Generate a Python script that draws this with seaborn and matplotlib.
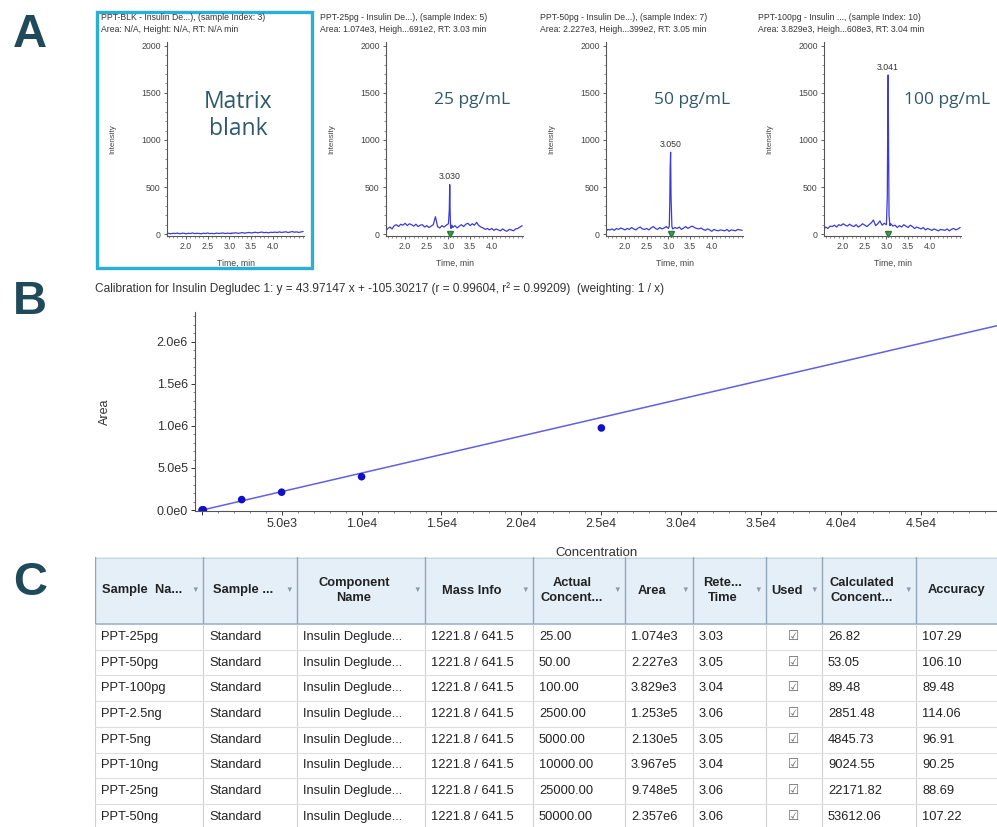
import numpy as np
import pandas as pd
import matplotlib
matplotlib.use("Agg")
import matplotlib.pyplot as plt
from matplotlib.patches import Rectangle
from matplotlib.ticker import MultipleLocator, FuncFormatter
import seaborn as sns

# ---------------- panel A: extracted ion chromatograms ----------------
times = [1.56, 1.60, 1.65, 1.70, 1.75, 1.80, 1.85, 1.90, 1.95, 2.00,
         2.05, 2.10, 2.15, 2.20, 2.25, 2.30, 2.35, 2.40, 2.45, 2.50,
         2.55, 2.60, 2.65, 2.70, 2.75, 2.80, 2.85, 2.90, 2.95, 3.00,
         3.02, 3.03, 3.04, 3.05, 3.06, 3.08, 3.10, 3.15, 3.20, 3.25,
         3.30, 3.35, 3.40, 3.45, 3.50, 3.55, 3.60, 3.65, 3.70, 3.75,
         3.80, 3.85, 3.90, 3.95, 4.00, 4.05, 4.10, 4.15, 4.20, 4.25,
         4.30, 4.35, 4.40, 4.45, 4.50, 4.55, 4.60, 4.65, 4.70]

trace_blank = [4, 8, 3, 9, 6, 11, 4, 8, 10, 3,
               9, 6, 12, 5, 9, 7, 3, 10, 6, 12,
               5, 8, 4, 11, 7, 9, 12, 6, 10, 8,
               5, 7, 11, 6, 9, 12, 10, 14, 8, 12,
               16, 10, 14, 18, 12, 16, 20, 14, 18, 22,
               15, 19, 13, 20, 17, 22, 16, 24, 18, 21,
               25, 17, 22, 27, 20, 24, 18, 23, 28]

trace_25pg = [35, 60, 75, 55, 90, 100, 80, 105, 95, 115,
              90, 110, 100, 85, 105, 80, 95, 100, 75, 90,
              70, 85, 100, 185, 80, 65, 90, 75, 95, 110,
              260, 525, 230, 75, 60, 95, 70, 90, 65, 85,
              100, 80, 105, 115, 90, 110, 95, 125, 90, 75,
              65, 50, 60, 45, 60, 40, 55, 45, 35, 55,
              40, 30, 50, 45, 35, 55, 60, 75, 90]

trace_50pg = [30, 50, 45, 55, 40, 60, 50, 65, 55, 45,
              60, 50, 70, 55, 45, 65, 75, 55, 50, 60,
              45, 65, 80, 60, 50, 70, 55, 65, 80, 60,
              90, 320, 700, 870, 400, 80, 55, 70, 60, 75,
              50, 65, 80, 60, 75, 85, 70, 60, 55, 65,
              50, 40, 55, 45, 30, 50, 40, 35, 45, 40,
              35, 50, 30, 45, 40, 35, 50, 45, 40]

trace_100pg = [55, 75, 60, 85, 80, 95, 75, 100, 90, 110,
               95, 85, 105, 90, 80, 100, 75, 90, 110, 95,
               80, 100, 120, 150, 90, 110, 140, 95, 115, 100,
               400, 1200, 1690, 900, 200, 90, 110, 85, 95, 70,
               90, 75, 100, 85, 70, 95, 80, 60, 75, 65,
               55, 70, 45, 60, 50, 40, 55, 45, 35, 50,
               45, 40, 55, 35, 50, 60, 45, 55, 70]

chrom_traces = [trace_blank, trace_25pg, trace_50pg, trace_100pg]
chrom_titles = ["PPT-BLK - Insulin De...), (sample Index: 3)",
                "PPT-25pg - Insulin De...), (sample Index: 5)",
                "PPT-50pg - Insulin De...), (sample Index: 7)",
                "PPT-100pg - Insulin ..., (sample Index: 10)"]
chrom_subtitles = ["Area: N/A, Height: N/A, RT: N/A min",
                   "Area: 1.074e3, Heigh...691e2, RT: 3.03 min",
                   "Area: 2.227e3, Heigh...399e2, RT: 3.05 min",
                   "Area: 3.829e3, Heigh...608e3, RT: 3.04 min"]
chrom_tags = ["Matrix\nblank", "25 pg/mL", "50 pg/mL", "100 pg/mL"]
peak_labels = [None, "3.030", "3.050", "3.041"]
time_ticks = [2.0, 2.5, 3.0, 3.5, 4.0]
intensity_ticks = [0, 500, 1000, 1500, 2000]

# ---------------- panel B / C: calibration ----------------
sample_names = ["PPT-25pg", "PPT-50pg", "PPT-100pg", "PPT-2.5ng",
                "PPT-5ng", "PPT-10ng", "PPT-25ng", "PPT-50ng"]
sample_types = ["Standard"] * 8
component_names = ["Insulin Deglude..."] * 8
mass_info = ["1221.8 / 641.5"] * 8
actual_conc = [25, 50, 100, 2500, 5000, 10000, 25000, 50000]
peak_area = [1.074e3, 2.227e3, 3.829e3, 1.253e5, 2.130e5, 3.967e5, 9.748e5, 2.357e6]
ret_time = [3.03, 3.05, 3.04, 3.06, 3.05, 3.04, 3.06, 3.06]
calc_conc = [26.82, 53.05, 89.48, 2851.48, 4845.73, 9024.55, 22171.82, 53612.06]
accuracy = [107.29, 106.10, 89.48, 114.06, 96.91, 90.25, 88.69, 107.22]
slope, intercept = 43.97147, -105.30217

header_labels = ["Sample  Na...", "Sample ...", "Component\nName", "Mass Info",
                 "Actual\nConcent...", "Area", "Rete...\nTime", "Used",
                 "Calculated\nConcent...", "Accuracy"]
col_widths = [108, 94, 128, 108, 92, 68, 73, 56, 94, 95]

W, H = 997, 827
LETTER = "#1f4a5a"
TAG = "#2c5a6c"
TRACE = "#3b3bd6"


def sci_label(v, digits):
    if v == 0:
        return "0." + "0" * digits + "e0"
    e = int(np.floor(np.log10(abs(v)) + 1e-9))
    return f"{v / 10 ** e:.{digits}f}e{e}"


sns.set_theme(style="ticks")
plt.rcParams["font.family"] = ["Liberation Sans", "DejaVu Sans"]

fig = plt.figure(figsize=(W / 100, H / 100), dpi=100)


def px_axes(left, top, right, bottom):
    return fig.add_axes([left / W, 1 - bottom / H, (right - left) / W, (bottom - top) / H])


# panel letters
for letter, yc in zip(["A", "B", "C"], [35, 302, 583]):
    fig.text(30 / W, 1 - yc / H, letter, fontsize=34, fontweight="bold",
             color=LETTER, ha="center", va="center")

# ---- A ----
lefts = [167, 386, 606, 824]
for i, left in enumerate(lefts):
    ax = px_axes(left, 42, left + 137, 236)
    df = pd.DataFrame({"Time": times, "Intensity": chrom_traces[i]})
    sns.lineplot(data=df, x="Time", y="Intensity", ax=ax, color=TRACE, lw=0.9)
    ax.set_xlim(1.56, 4.72)
    ax.set_ylim(-20, 2040)
    ax.set_xticks(time_ticks)
    ax.set_yticks(intensity_ticks)
    ax.yaxis.set_minor_locator(MultipleLocator(100))
    ax.xaxis.set_minor_locator(MultipleLocator(0.1))
    ax.xaxis.set_major_formatter(FuncFormatter(lambda v, p: f"{v:.1f}"))
    ax.tick_params(labelsize=6.3, colors="#444", length=2.5, width=0.6, pad=2)
    ax.tick_params(which="minor", length=1.3, width=0.5, colors="#666")
    sns.despine(ax=ax)
    for s in ["left", "bottom"]:
        ax.spines[s].set_color("#555")
        ax.spines[s].set_linewidth(0.8)
    ax.set_ylabel("Intensity", fontsize=5.8, color="#444")
    ax.set_xlabel("Time, min", fontsize=6.3, color="#444")
    ax.yaxis.set_label_coords(-0.37, 0.5)
    ax.xaxis.set_label_coords(0.5, -0.12)

    fig.text((left - 66) / W, 1 - 17 / H, chrom_titles[i], fontsize=6.2,
             color="#333", va="center")
    fig.text((left - 66) / W, 1 - 29 / H, chrom_subtitles[i], fontsize=6.2,
             color="#333", va="center")

    if peak_labels[i]:
        k = int(np.argmax(chrom_traces[i]))
        ax.text(times[k], chrom_traces[i][k] + 35, peak_labels[i], ha="center",
                va="bottom", fontsize=6.3, color="#333")
        ax.plot(times[k], 0, marker="v", ms=4, color="#3f9f4f", mec="#2a7a3a",
                clip_on=False, zorder=4)

    if i == 0:
        ax.text(0.52, 0.62, chrom_tags[i], transform=ax.transAxes, ha="center",
                va="center", fontsize=16.5, color=TAG, family=["Open Sans", "DejaVu Sans"],
                linespacing=1.15)
    else:
        tx = 0.90 if i == 3 else 0.63
        ax.text(tx, 0.70, chrom_tags[i], transform=ax.transAxes, ha="center",
                va="center", fontsize=12.5, color=TAG, family=["Open Sans", "DejaVu Sans"])

fig.add_artist(Rectangle((97 / W, 1 - 268 / H), (312 - 97) / W, (268 - 12) / H,
                         transform=fig.transFigure, fill=False, ec="#2ab0d5", lw=2.4))

# ---- B ----
fig.text(95 / W, 1 - 289 / H,
         "Calibration for Insulin Degludec 1: y = 43.97147 x + -105.30217 "
         "(r = 0.99604, r² = 0.99209)  (weighting: 1 / x)",
         fontsize=8.6, color="#333", va="center")

axb = px_axes(195, 312, 997, 511)
x_lim = (-420, 49750)
y_lim = (-1.0e4, 2.35e6)
fit_x = np.array([0, x_lim[1]])
sns.lineplot(x=fit_x, y=slope * fit_x + intercept, ax=axb, color="#6060e0", lw=1.1)
sns.scatterplot(x=actual_conc, y=peak_area, ax=axb, color="#1010cc", s=30,
                edgecolor="none", zorder=3)
axb.set_xlim(*x_lim)
axb.set_ylim(*y_lim)
axb.xaxis.set_major_locator(MultipleLocator(5000))
axb.yaxis.set_major_locator(MultipleLocator(5e5))
axb.xaxis.set_minor_locator(MultipleLocator(1000))
axb.yaxis.set_minor_locator(MultipleLocator(1e5))
axb.xaxis.set_major_formatter(FuncFormatter(lambda v, p: "" if abs(v) < 1 else sci_label(v, 1)))
axb.yaxis.set_major_formatter(FuncFormatter(lambda v, p: sci_label(v, 1)))
axb.tick_params(labelsize=9, colors="#333", length=3, width=0.7, pad=2)
axb.tick_params(which="minor", length=1.6, width=0.5, colors="#555")
sns.despine(ax=axb)
for s in ["left", "bottom"]:
    axb.spines[s].set_color("#555")
    axb.spines[s].set_linewidth(0.8)
axb.set_xlabel("Concentration", fontsize=9.5, color="#333")
axb.set_ylabel("Area", fontsize=9, color="#333")
axb.xaxis.set_label_coords(0.5, -0.18)
axb.yaxis.set_label_coords(-0.105, 0.5)

# ---- C: results table ----
axt = px_axes(95, 557, 997, 827)
axt.set_xlim(0, 902)
axt.set_ylim(270, 0)
axt.axis("off")
head_h, row_h = 67, 25.7
edges = np.concatenate([[0], np.cumsum(col_widths)])
axt.add_patch(Rectangle((0, 0), edges[-1], head_h, fc="#e5eff8", ec="none", clip_on=True))
axt.plot([0, edges[-1]], [head_h, head_h], color="#9fb3c6", lw=1.2)
axt.plot([0, edges[-1]], [0.5, 0.5], color="#c9d6e2", lw=0.8)

rows = []
for r in range(len(sample_names)):
    rows.append([sample_names[r], sample_types[r], component_names[r], mass_info[r],
                 f"{actual_conc[r]:.2f}", sci_label(peak_area[r], 3), f"{ret_time[r]:.2f}",
                 "☑", f"{calc_conc[r]:.2f}", f"{accuracy[r]:.2f}"])

last = len(col_widths) - 1
for c in range(len(col_widths)):
    x0, x1 = edges[c], edges[c + 1]
    axt.plot([x0, x0], [0, head_h], color="#8fa6bb", lw=1.0)
    axt.plot([x0, x0], [head_h, 275], color="#d0d0d0", lw=0.8)
    axt.text((x0 + x1 - 14) / 2, head_h / 2, header_labels[c], ha="center", va="center",
             fontsize=9.3, fontweight="bold", color="#222", linespacing=1.25, clip_on=True)
    if c < last:
        axt.text(x1 - 8, head_h / 2, "▼", ha="center", va="center", fontsize=5.5,
                 color="#8a98a8", clip_on=True)
    for r, row in enumerate(rows):
        yc = head_h + row_h * (r + 0.5)
        if header_labels[c] == "Used":
            axt.text((x0 + x1) / 2, yc, row[c], ha="center", va="center",
                     fontsize=9, color="#666", clip_on=True)
        else:
            axt.text(x0 + 6, yc, row[c], ha="left", va="center", fontsize=9.3,
                     color="#222", clip_on=True)

for r in range(1, len(rows) + 1):
    yb = head_h + row_h * r
    axt.plot([0, edges[-1]], [yb, yb], color="#dedede", lw=0.8)

fig.savefig("out.png", dpi=100)
